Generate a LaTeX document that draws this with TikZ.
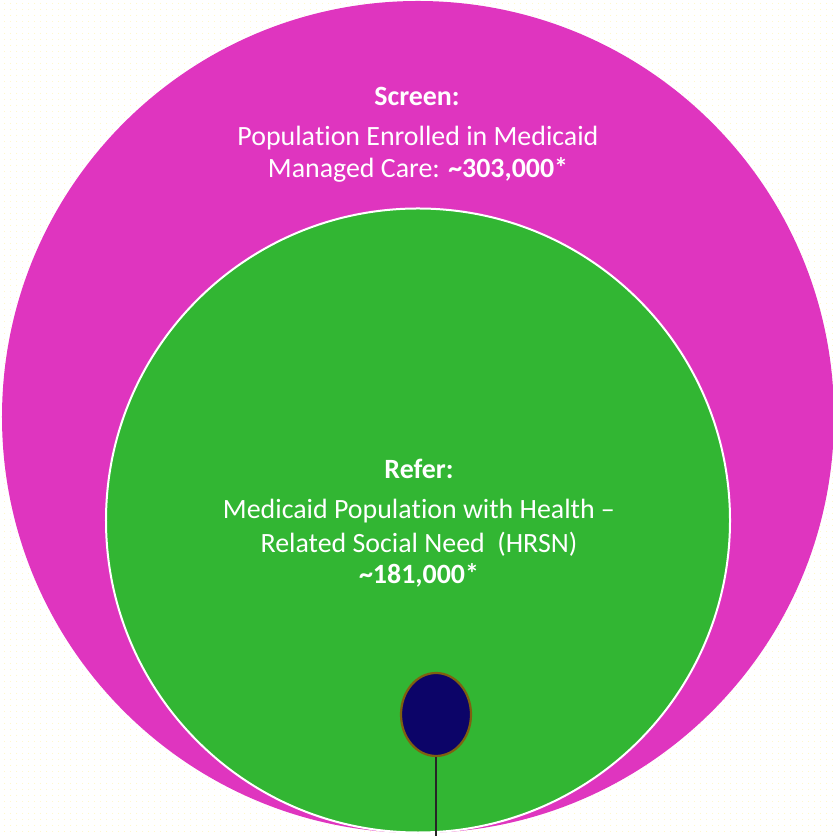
\documentclass[tikz,border=0pt]{standalone}
\usepackage{fontspec}
\setmainfont[Ligatures=NoCommon]{Carlito}
\usetikzlibrary{shapes.geometric,patterns.meta}
\definecolor{ringmag}{HTML}{DF35BF}
\definecolor{refergreen}{HTML}{32B633}
\definecolor{navyfill}{HTML}{0C0468}
\definecolor{oliveedge}{HTML}{7F6010}
\definecolor{dotyellow}{HTML}{FFF6C8}
\begin{document}
\begin{tikzpicture}[x=1bp,y=1bp,
  lbl/.style={text=white,font=\fontsize{28}{32}\selectfont,align=center,inner sep=0pt},
  lblb/.style={lbl,font=\fontsize{28}{32}\selectfont\bfseries}]
\useasboundingbox (0,0) rectangle (833,836);
\fill[pattern={Dots[distance=6bp,radius=0.6bp]},pattern color=dotyellow] (0,0) rectangle (833,836);
\node[circle,fill=ringmag,minimum size=832bp,inner sep=0pt] (screen) at (418,419) {};
\node[circle,fill=refergreen,draw=white,line width=2bp,minimum size=624bp,inner sep=0pt] (refer) at (418,315.5) {};
\node[ellipse,fill=navyfill,draw=oliveedge,line width=2.2bp,minimum width=70bp,minimum height=83bp,inner sep=0pt] (dot) at (436,121.5) {};
\coordinate (lineend) at (436,0);
\draw[line width=1.5bp,black!85] (dot.south) -- (lineend);
\node[lblb] (screent) at (417,740) {Screen:};
\node[lbl] (screen1) at (418,698) {Popula\kern0pt tion Enrolled in Medicaid};
\node[lbl] (screen2) at (418,666) {Managed Care: \textbf{\textasciitilde303,000*}};
\node[lblb] (refert) at (419,367) {Refer:};
\node[lbl] (refer1) at (419,325) {Medicaid Popula\kern0pt tion with Health –};
\node[lbl] (refer2) at (419,292) {Related Social Need\ \ (HRSN)};
\node[lblb] (refer3) at (419,261) {\textasciitilde181,000*};
\end{tikzpicture}
\end{document}
